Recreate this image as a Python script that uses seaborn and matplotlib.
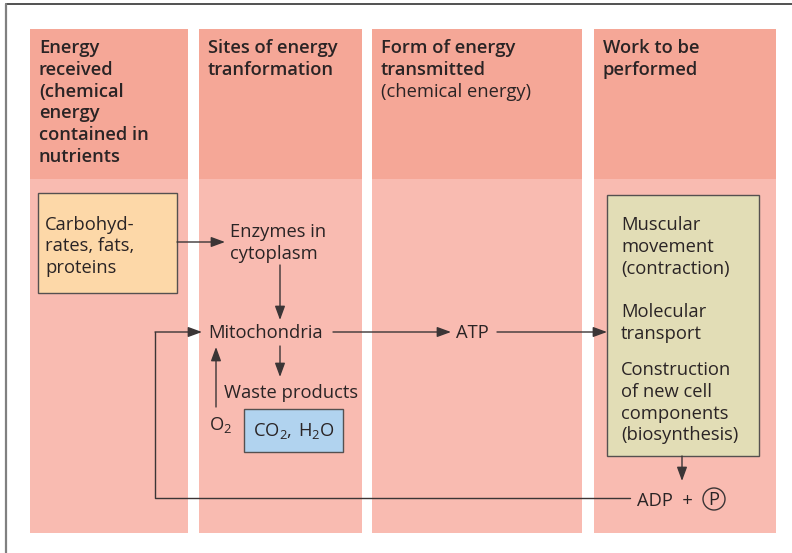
"""
Energy flow in the cell: nutrients -> transformation sites -> ATP -> work.
"""

import matplotlib
matplotlib.use("Agg")
import matplotlib.pyplot as plt
import matplotlib.patches as mpatches
import seaborn as sns

# data (texts of the diagram)
header_bold = [
    ["Energy", "received", "(chemical", "energy", "contained in", "nutrients"],
    ["Sites of energy", "tranformation"],
    ["Form of energy", "transmitted"],
    ["Work to be", "performed"],
]
header_regular = [[], [], ["(chemical energy)"], []]

nutrients = ["Carbohyd-", "rates, fats,", "proteins"]
enzymes = ["Enzymes in", "cytoplasm"]
site = "Mitochondria"
waste = "Waste products"
oxygen = r"$\mathregular{O_2}$"
waste_box = r"$\mathregular{CO_2,\,H_2O}$"
carrier = "ATP"
work_groups = [
    ["Muscular", "movement", "(contraction)"],
    ["Molecular", "transport"],
    ["Construction", "of new cell", "components", "(biosynthesis)"],
]
spent = "ADP  +"
phosphate = "P"

# layout (pixels, figure is 792 x 553)
col_left = [30, 199, 372, 594]
col_right = [188, 362, 582, 776]
head_top, head_bottom, body_bottom = 29, 179, 533
line_h = 21.8

HEAD_C = "#f5a797"
BODY_C = "#f9bbb1"
TEXT_C = "#2a2425"
LINE_C = "#3b3536"
FS = 13.2

sns.set_theme(style="white")
plt.rcParams["font.family"] = ["Open Sans", "DejaVu Sans"]
plt.rcParams["mathtext.fontset"] = "custom"
plt.rcParams["mathtext.rm"] = "Open Sans"

fig = plt.figure(figsize=(7.92, 5.53), dpi=100)
ax = fig.add_axes([0, 0, 1, 1])
ax.set_xlim(0, 792)
ax.set_ylim(553, 0)
ax.axis("off")

# frame
ax.plot([6, 792], [3.5, 3.5], color="#333333", lw=1.2)
ax.plot([6, 6], [3.5, 553], color="#808080", lw=1.6)

# columns
for i, (l, r) in enumerate(zip(col_left, col_right)):
    ax.add_patch(mpatches.Rectangle((l, head_top), r - l, head_bottom - head_top,
                                    facecolor=HEAD_C, edgecolor="none"))
    ax.add_patch(mpatches.Rectangle((l, head_bottom), r - l, body_bottom - head_bottom,
                                    facecolor=BODY_C, edgecolor="none"))
    y = 53
    for t in header_bold[i]:
        ax.text(l + 9, y, t, fontsize=FS, fontweight="semibold", color=TEXT_C, va="baseline")
        y += line_h
    for t in header_regular[i]:
        ax.text(l + 9, y, t, fontsize=FS, color=TEXT_C, va="baseline")
        y += line_h


def arrow(x0, y0, x1, y1):
    ax.annotate("", xy=(x1, y1), xytext=(x0, y0),
                arrowprops=dict(arrowstyle="-|>,head_length=0.6,head_width=0.22",
                                color=LINE_C, lw=1.0, shrinkA=0, shrinkB=0,
                                mutation_scale=14))


# nutrients box
ax.add_patch(mpatches.Rectangle((38, 193), 139, 100, facecolor="#fdd8a8",
                                edgecolor="#555050", lw=1.0))
for k, t in enumerate(nutrients):
    ax.text(45, 229.5 + k * line_h, t, fontsize=FS, color=TEXT_C, va="baseline")
arrow(177, 242, 225, 242)

for k, t in enumerate(enzymes):
    ax.text(230, 237 + k * line_h, t, fontsize=FS, color=TEXT_C, va="baseline")
arrow(280, 265, 280, 320)

ax.text(208, 338, site, fontsize=FS, color=TEXT_C, va="baseline")
arrow(280, 346, 280, 377)
ax.text(224, 398, waste, fontsize=FS, color=TEXT_C, va="baseline")
arrow(216, 407, 216, 347)
ax.text(209, 430, oxygen, fontsize=FS, color=TEXT_C, va="baseline")

ax.add_patch(mpatches.Rectangle((244, 409), 99, 43, facecolor="#b1d3ef",
                                edgecolor="#555050", lw=1.0))
ax.text(293.5, 436, waste_box, fontsize=FS, color=TEXT_C, va="baseline", ha="center")

# ATP path
arrow(333, 332, 451, 332)
ax.text(456, 338, carrier, fontsize=FS, color=TEXT_C, va="baseline")
arrow(497, 332, 607, 332)

# work box
ax.add_patch(mpatches.Rectangle((607, 195), 152, 261, facecolor="#e2ddb6",
                                edgecolor="#555050", lw=1.0))
y_starts = [230, 317, 375]
for y0, grp in zip(y_starts, work_groups):
    for k, t in enumerate(grp):
        ax.text(621, y0 + k * line_h, t, fontsize=FS, color=TEXT_C, va="baseline")
arrow(682, 456, 682, 481)

# ADP + P and feedback loop
ax.text(637, 506, spent, fontsize=FS, color=TEXT_C, va="baseline")
ax.add_patch(mpatches.Circle((714, 499), 11, facecolor="none", edgecolor=LINE_C, lw=1.0))
ax.text(714, 505, phosphate, fontsize=FS, color=TEXT_C, va="baseline", ha="center")
ax.plot([630, 155, 155], [498, 498, 332], color=LINE_C, lw=1.0)
arrow(155, 332, 202, 332)

fig.savefig("out.png", dpi=100)
